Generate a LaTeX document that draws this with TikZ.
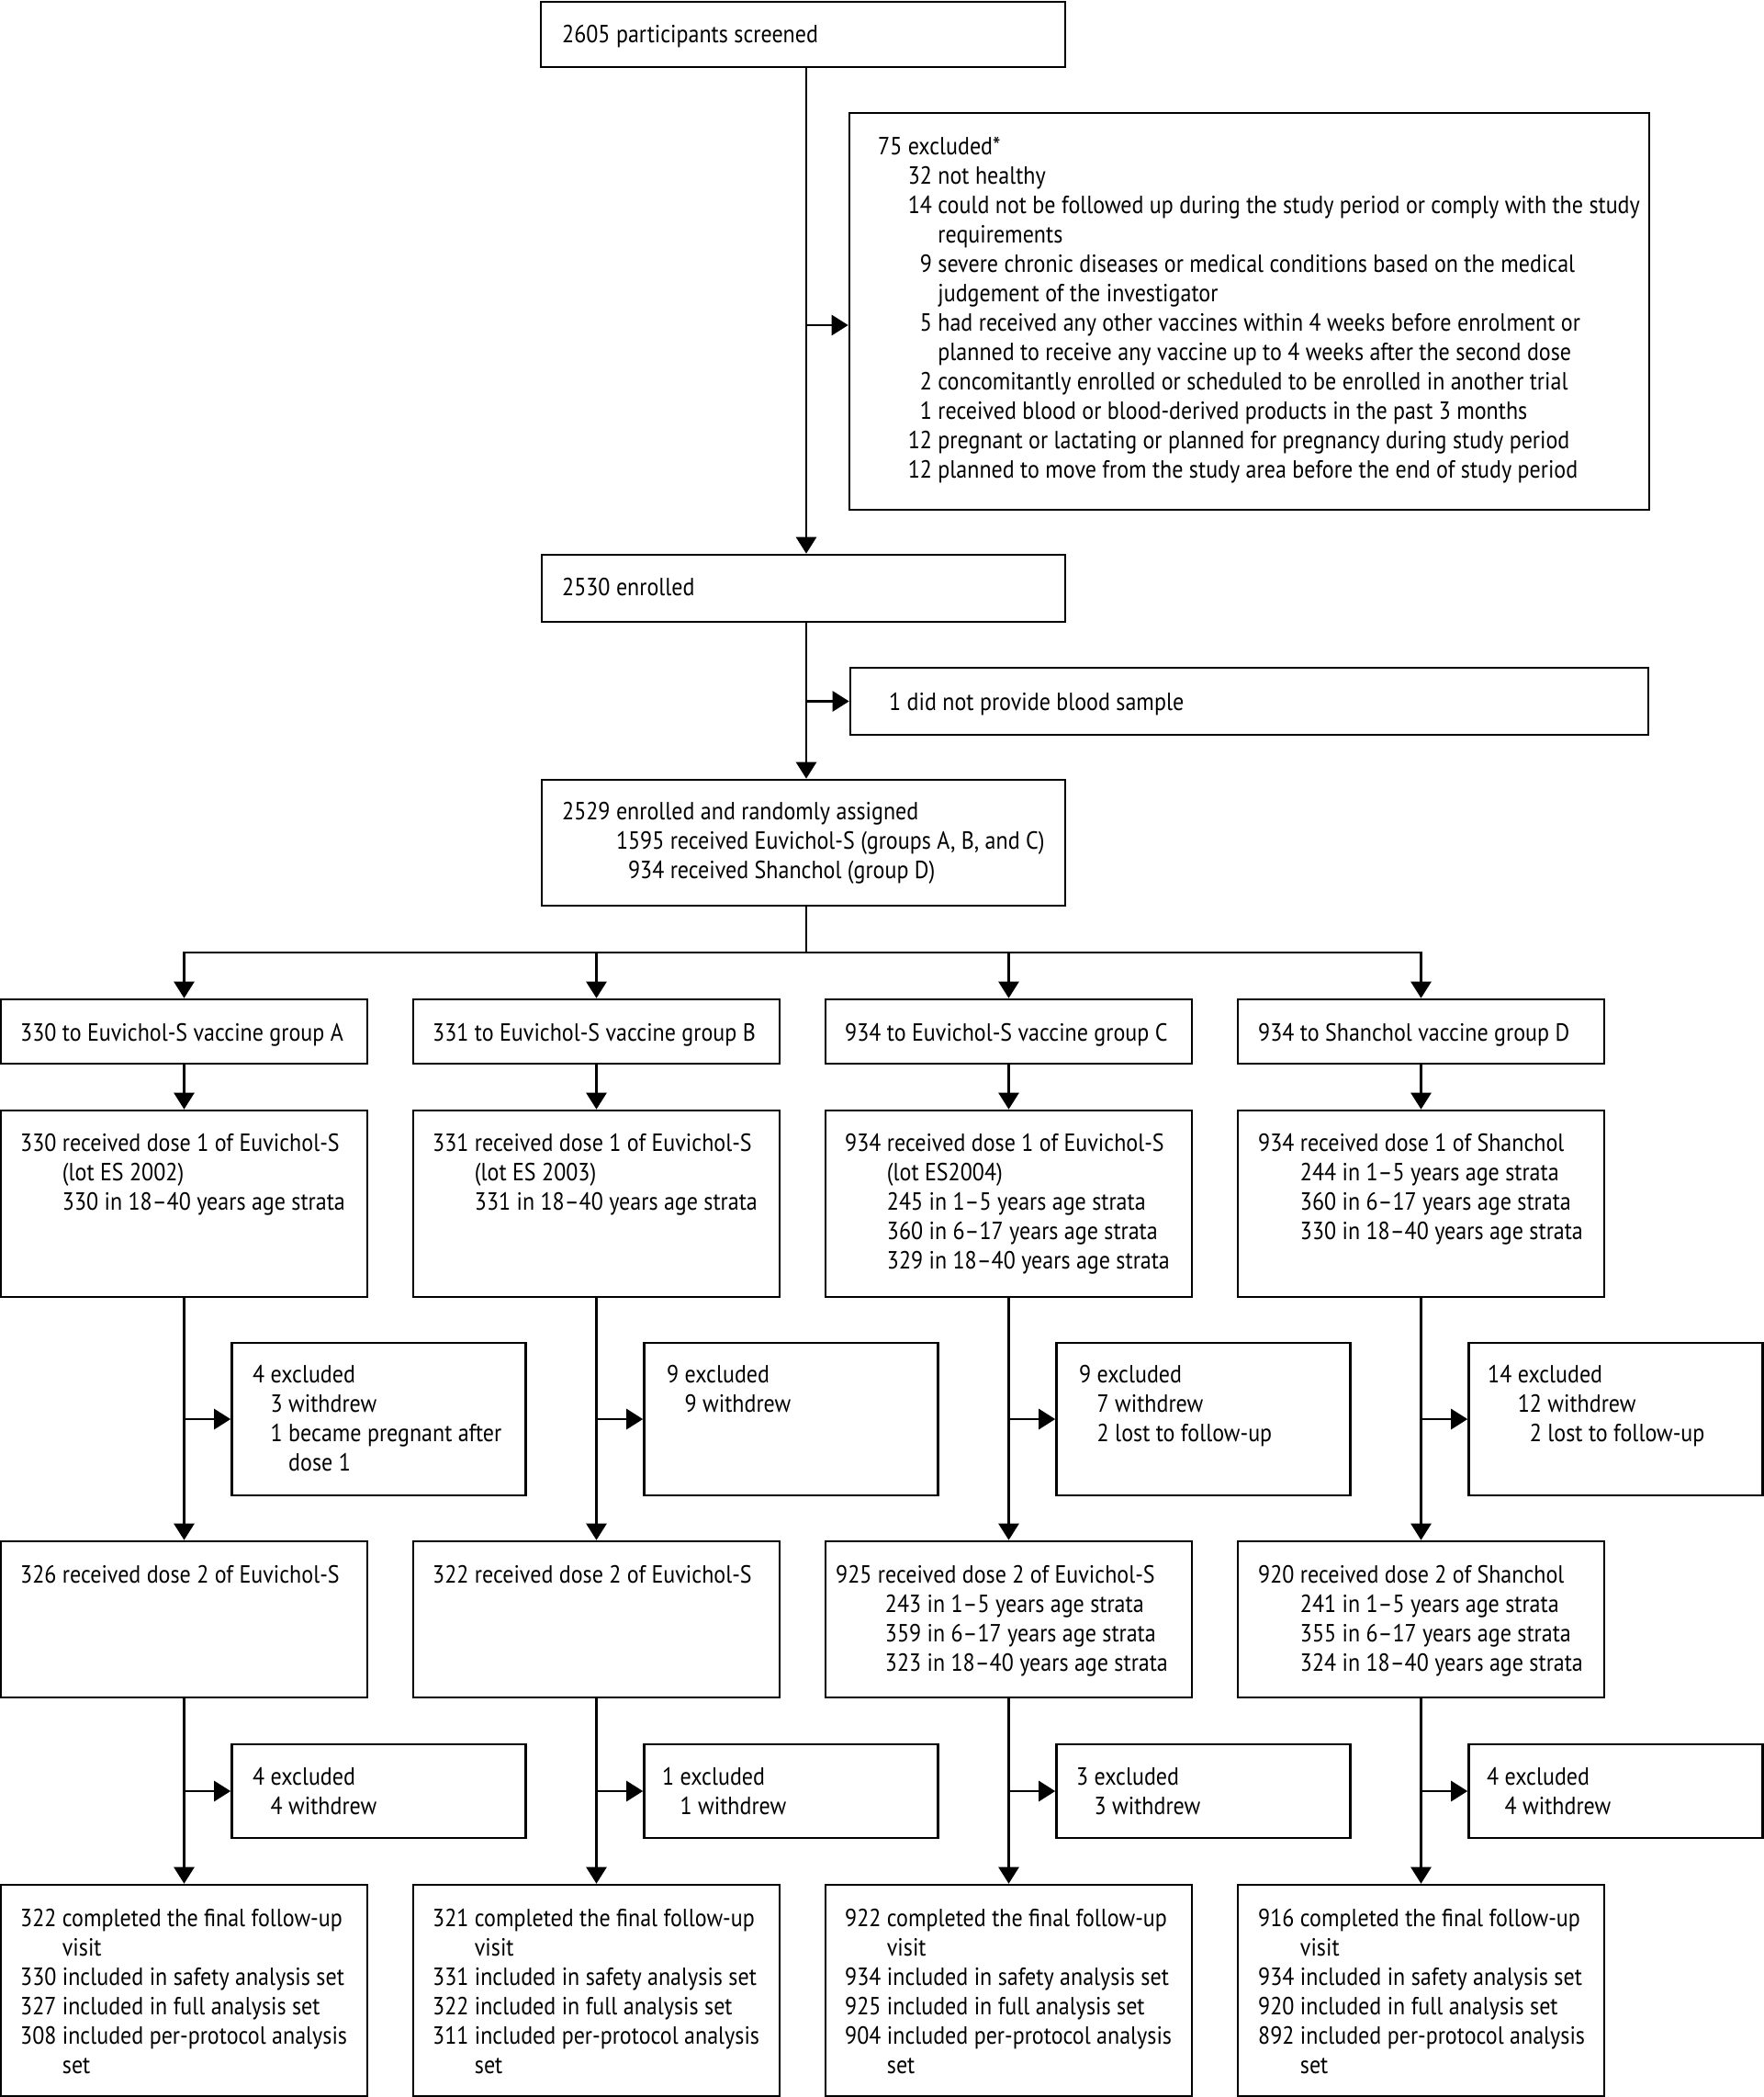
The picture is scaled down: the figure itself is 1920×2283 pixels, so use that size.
\documentclass[tikz,border=0pt]{standalone}
\usepackage{fontspec}
\setmainfont{PT Sans}[FakeStretch=0.89]
\usetikzlibrary{arrows.meta}
\newcommand{\fsz}{\fontsize{27pt}{32pt}\selectfont}
\begin{document}
\begin{tikzpicture}[x=1pt,y=-1pt,
  box/.style={draw, line width=2.6pt, inner sep=0pt},
  conn/.style={line width=2.6pt},
  arr/.style={conn, -{Triangle[length=18pt,width=22pt]}},
  txt/.style={anchor=base west, inner sep=0pt, font=\fsz}]
\path[fill=white, use as bounding box] (0,0) rectangle (1920,2283);

% ---------- top part ----------
\node[box, minimum width=571pt, minimum height=71pt] (scr) at (874.5,37.5) {};
\node[box, minimum width=871pt, minimum height=432pt] (exc0) at (1360.5,339) {};
\node[box, minimum width=570pt, minimum height=73pt] (enr) at (875,640.5) {};
\node[box, minimum width=869pt, minimum height=73pt] (nob) at (1360.5,763.5) {};
\node[box, minimum width=570pt, minimum height=137pt] (rand) at (875,917.5) {};

\node[txt] (tscr) at (612,47) {2605 participants screened};
\node[txt] (texc0) at (956,168) {\begin{tabular}[t]{@{}l@{\ }r@{\ }l@{}}
75 & \multicolumn{2}{@{}l@{}}{excluded*}\\
 & 32 & not healthy\\
 & 14 & could not be followed up during the study period or comply with the study\\
 & & requirements\\
 & 9 & severe chronic diseases or medical conditions based on the medical\\
 & & judgement of the investigator\\
 & 5 & had received any other vaccines within 4 weeks before enrolment or\\
 & & planned to receive any vaccine up to 4 weeks after the second dose\\
 & 2 & concomitantly enrolled or scheduled to be enrolled in another trial\\
 & 1 & received blood or blood-derived products in the past 3 months\\
 & 12 & pregnant or lactating or planned for pregnancy during study period\\
 & 12 & planned to move from the study area before the end of study period
\end{tabular}};
\node[txt] (tenr) at (612,648) {2530 enrolled};
\node[txt] (tnob) at (968,773) {1 did not provide blood sample};
\node[txt] (trand) at (612,892) {\begin{tabular}[t]{@{}l@{\ }r@{\ }l@{}}
2529 & \multicolumn{2}{@{}l@{}}{enrolled and randomly assigned}\\
 & 1595 & received Euvichol-S (groups A, B, and C)\\
 & 934 & received Shanchol (group D)
\end{tabular}};

\coordinate (trunk) at (878,0);
\coordinate (split) at (878,1037);
\draw[arr] (scr.south -| trunk) -- (enr.north -| trunk);
\draw[arr] ([yshift=-15pt]exc0.west -| trunk) -- ([yshift=-15pt]exc0.west);
\draw[arr] (enr.south -| trunk) -- (rand.north -| trunk);
\draw[arr] (nob.west -| trunk) -- (nob.west);
\draw[conn] (rand.south -| trunk) -- (split);

% ---------- group row ----------
\foreach \n/\cx in {A/200.5,B/649.5,C/1098.5,D/1547.5}{
  \node[box, minimum width=399pt, minimum height=70pt] (g\n) at (\cx,1123) {};
  \node[box, minimum width=399pt, minimum height=203pt] (d\n) at (\cx,1310.5) {};
  \node[box, minimum width=320pt, minimum height=166pt] (x\n) at (\cx+212,1545) {};
  \node[box, minimum width=399pt, minimum height=170pt] (e\n) at (\cx,1763) {};
  \node[box, minimum width=320pt, minimum height=102pt] (y\n) at (\cx+212,1950) {};
  \node[box, minimum width=399pt, minimum height=230pt] (f\n) at (\cx,2167) {};
  \draw[arr] (g\n.south) -- (d\n.north);
  \draw[arr] (d\n.south) -- (e\n.north);
  \draw[arr] (x\n.west -| d\n.south) -- (x\n.west);
  \draw[arr] (e\n.south) -- (f\n.north);
  \draw[arr] (y\n.west -| e\n.south) -- (y\n.west);
}
\draw[arr] (split) -| (gA.north);
\draw[arr] (split) -| (gD.north);
\draw[arr] (gB.north |- split) -- (gB.north);
\draw[arr] (gC.north |- split) -- (gC.north);

% group texts
\node[txt] (tgA) at (22,1133) {330 to Euvichol-S vaccine group A};
\node[txt] (tgB) at (471,1133) {331 to Euvichol-S vaccine group B};
\node[txt] (tgC) at (920,1133) {934 to Euvichol-S vaccine group C};
\node[txt] (tgD) at (1370,1133) {934 to Shanchol vaccine group D};

% dose 1 texts
\node[txt] (tdA) at (22,1253) {\begin{tabular}[t]{@{}l@{\ }l@{}}
330 & received dose 1 of Euvichol-S\\ & (lot ES 2002)\\ & 330 in 18–40 years age strata\end{tabular}};
\node[txt] (tdB) at (471,1253) {\begin{tabular}[t]{@{}l@{\ }l@{}}
331 & received dose 1 of Euvichol-S\\ & (lot ES 2003)\\ & 331 in 18–40 years age strata\end{tabular}};
\node[txt] (tdC) at (920,1253) {\begin{tabular}[t]{@{}l@{\ }l@{}}
934 & received dose 1 of Euvichol-S\\ & (lot ES2004)\\ & 245 in 1–5 years age strata\\ & 360 in 6–17 years age strata\\ & 329 in 18–40 years age strata\end{tabular}};
\node[txt] (tdD) at (1370,1253) {\begin{tabular}[t]{@{}l@{\ }l@{}}
934 & received dose 1 of Shanchol\\ & 244 in 1–5 years age strata\\ & 360 in 6–17 years age strata\\ & 330 in 18–40 years age strata\end{tabular}};

% excluded after dose 1
\node[txt] (txA) at (275,1505) {\begin{tabular}[t]{@{}l@{\ }r@{\ }l@{}}
4 & \multicolumn{2}{@{}l@{}}{excluded}\\ & 3 & withdrew\\ & 1 & became pregnant after\\ & & dose 1\end{tabular}};
\node[txt] (txB) at (726,1505) {\begin{tabular}[t]{@{}l@{\ }r@{\ }l@{}}
9 & \multicolumn{2}{@{}l@{}}{excluded}\\ & 9 & withdrew\end{tabular}};
\node[txt] (txC) at (1175,1505) {\begin{tabular}[t]{@{}l@{\ }r@{\ }l@{}}
9 & \multicolumn{2}{@{}l@{}}{excluded}\\ & 7 & withdrew\\ & 2 & lost to follow-up\end{tabular}};
\node[txt] (txD) at (1620,1505) {\begin{tabular}[t]{@{}l@{\ }r@{\ }l@{}}
14 & \multicolumn{2}{@{}l@{}}{excluded}\\ & 12 & withdrew\\ & 2 & lost to follow-up\end{tabular}};

% dose 2 texts
\node[txt] (teA) at (22,1723) {326 received dose 2 of Euvichol-S};
\node[txt] (teB) at (471,1723) {322 received dose 2 of Euvichol-S};
\node[txt] (teC) at (910,1723) {\begin{tabular}[t]{@{}l@{\ }l@{}}
925 & received dose 2 of Euvichol-S\\ & \hspace{8pt}243 in 1–5 years age strata\\ & \hspace{8pt}359 in 6–17 years age strata\\ & \hspace{8pt}323 in 18–40 years age strata\end{tabular}};
\node[txt] (teD) at (1370,1723) {\begin{tabular}[t]{@{}l@{\ }l@{}}
920 & received dose 2 of Shanchol\\ & 241 in 1–5 years age strata\\ & 355 in 6–17 years age strata\\ & 324 in 18–40 years age strata\end{tabular}};

% excluded after dose 2
\node[txt] (tyA) at (275,1943) {\begin{tabular}[t]{@{}l@{\ }l@{}}4 & \multicolumn{1}{@{}l@{}}{excluded}\\ & 4 withdrew\end{tabular}};
\node[txt] (tyB) at (721,1943) {\begin{tabular}[t]{@{}l@{\ }l@{}}1 & \multicolumn{1}{@{}l@{}}{excluded}\\ & 1 withdrew\end{tabular}};
\node[txt] (tyC) at (1172,1943) {\begin{tabular}[t]{@{}l@{\ }l@{}}3 & \multicolumn{1}{@{}l@{}}{excluded}\\ & 3 withdrew\end{tabular}};
\node[txt] (tyD) at (1619,1943) {\begin{tabular}[t]{@{}l@{\ }l@{}}4 & \multicolumn{1}{@{}l@{}}{excluded}\\ & 4 withdrew\end{tabular}};

% final texts
\node[txt] (tfA) at (22,2097) {\begin{tabular}[t]{@{}l@{\ }l@{}}
322 & completed the final follow-up\\ & visit\\
330 & included in safety analysis set\\ 327 & included in full analysis set\\
308 & included per-protocol analysis\\ & set\end{tabular}};
\node[txt] (tfB) at (471,2097) {\begin{tabular}[t]{@{}l@{\ }l@{}}
321 & completed the final follow-up\\ & visit\\
331 & included in safety analysis set\\ 322 & included in full analysis set\\
311 & included per-protocol analysis\\ & set\end{tabular}};
\node[txt] (tfC) at (920,2097) {\begin{tabular}[t]{@{}l@{\ }l@{}}
922 & completed the final follow-up\\ & visit\\
934 & included in safety analysis set\\ 925 & included in full analysis set\\
904 & included per-protocol analysis\\ & set\end{tabular}};
\node[txt] (tfD) at (1370,2097) {\begin{tabular}[t]{@{}l@{\ }l@{}}
916 & completed the final follow-up\\ & visit\\
934 & included in safety analysis set\\ 920 & included in full analysis set\\
892 & included per-protocol analysis\\ & set\end{tabular}};
\end{tikzpicture}
\end{document}
